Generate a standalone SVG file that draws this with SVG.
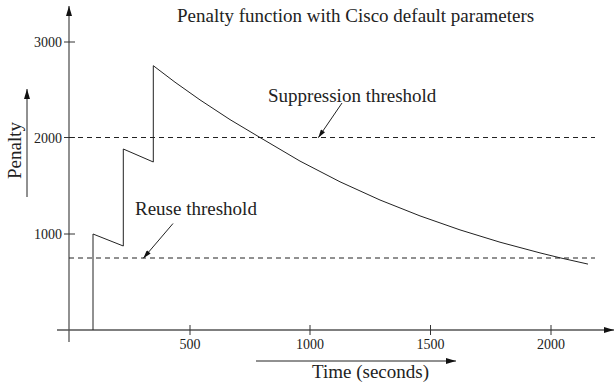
<svg xmlns="http://www.w3.org/2000/svg" width="616" height="388" viewBox="0 0 616 388">
<defs>
<style>
text{font-family:"Liberation Serif","Times New Roman",serif;fill:#222}
.big{font-size:19px}
.tick{font-size:14px}
.axis{stroke:#555;stroke-width:1.3;fill:none}
.tk{stroke:#333;stroke-width:1;fill:none}
.curve{stroke:#222;stroke-width:1;fill:none}
.dash{stroke:#222;stroke-width:1;stroke-dasharray:5 4;fill:none}
.ptr{stroke:#222;stroke-width:1;fill:none}
</style>
<marker id="ah" viewBox="0 0 10 6" refX="10" refY="3" markerWidth="10" markerHeight="6" markerUnits="userSpaceOnUse" orient="auto">
<path d="M0,0 L10,3 L0,6 Z" fill="#111"/>
</marker>
<marker id="ahs" viewBox="0 0 10 6" refX="10" refY="3" markerWidth="10" markerHeight="5" markerUnits="userSpaceOnUse" orient="auto">
<path d="M0,0 L10,3 L0,6 Z" fill="#111"/>
</marker>
</defs>
<rect width="616" height="388" fill="#fff"/>

<g id="axes">
<line class="axis" x1="69" y1="342" x2="69" y2="6" marker-end="url(#ah)"/>
<line class="axis" x1="57" y1="330" x2="614" y2="330" marker-end="url(#ah)"/>
<line class="tk" x1="64" y1="42" x2="75" y2="42"/>
<line class="tk" x1="64" y1="137.5" x2="75" y2="137.5"/>
<line class="tk" x1="64" y1="234" x2="75" y2="234"/>
<line class="tk" x1="190" y1="325" x2="190" y2="335"/>
<line class="tk" x1="310" y1="325" x2="310" y2="335"/>
<line class="tk" x1="430.5" y1="325" x2="430.5" y2="335"/>
<line class="tk" x1="551" y1="325" x2="551" y2="335"/>
<text class="tick" x="62" y="47" text-anchor="end">3000</text>
<text class="tick" x="62" y="142.5" text-anchor="end">2000</text>
<text class="tick" x="62" y="239" text-anchor="end">1000</text>
<text class="tick" x="190" y="349" text-anchor="middle">500</text>
<text class="tick" x="310" y="349" text-anchor="middle">1000</text>
<text class="tick" x="430.5" y="349" text-anchor="middle">1500</text>
<text class="tick" x="551" y="349" text-anchor="middle">2000</text>
</g>

<g id="thresholds">
<line class="dash" x1="69" y1="137.5" x2="595" y2="137.5"/>
<line class="dash" x1="69" y1="258" x2="595" y2="258"/>
</g>

<g id="curve">
<polyline class="curve" points="93,330 93,234 123.3,246 123.3,149 153.3,162 153.3,65.7 175,82.2 200,99.9 230,119.6 260,137.5 300,161.1 340,181.8 380,200 420,215.9 460,229.9 500,242.2 540,252.9 560,257.8 588,264.1"/>
</g>

<g id="connectors">
<line class="ptr" x1="173" y1="223.5" x2="143.3" y2="258.3" marker-end="url(#ahs)"/>
<line class="ptr" x1="342" y1="103" x2="318.3" y2="137.7" marker-end="url(#ahs)"/>
<line class="ptr" x1="27" y1="197" x2="27" y2="89" marker-end="url(#ah)"/>
<line class="ptr" x1="256" y1="361" x2="456" y2="361" marker-end="url(#ah)"/>
</g>

<g id="labels">
<text class="big" x="177" y="22">Penalty function with Cisco default parameters</text>
<text class="big" x="268" y="102">Suppression threshold</text>
<text class="big" x="135" y="215">Reuse threshold</text>
<text class="big" x="312" y="378">Time (seconds)</text>
<text class="big" transform="translate(21,179) rotate(-90)">Penalty</text>
</g>
</svg>
